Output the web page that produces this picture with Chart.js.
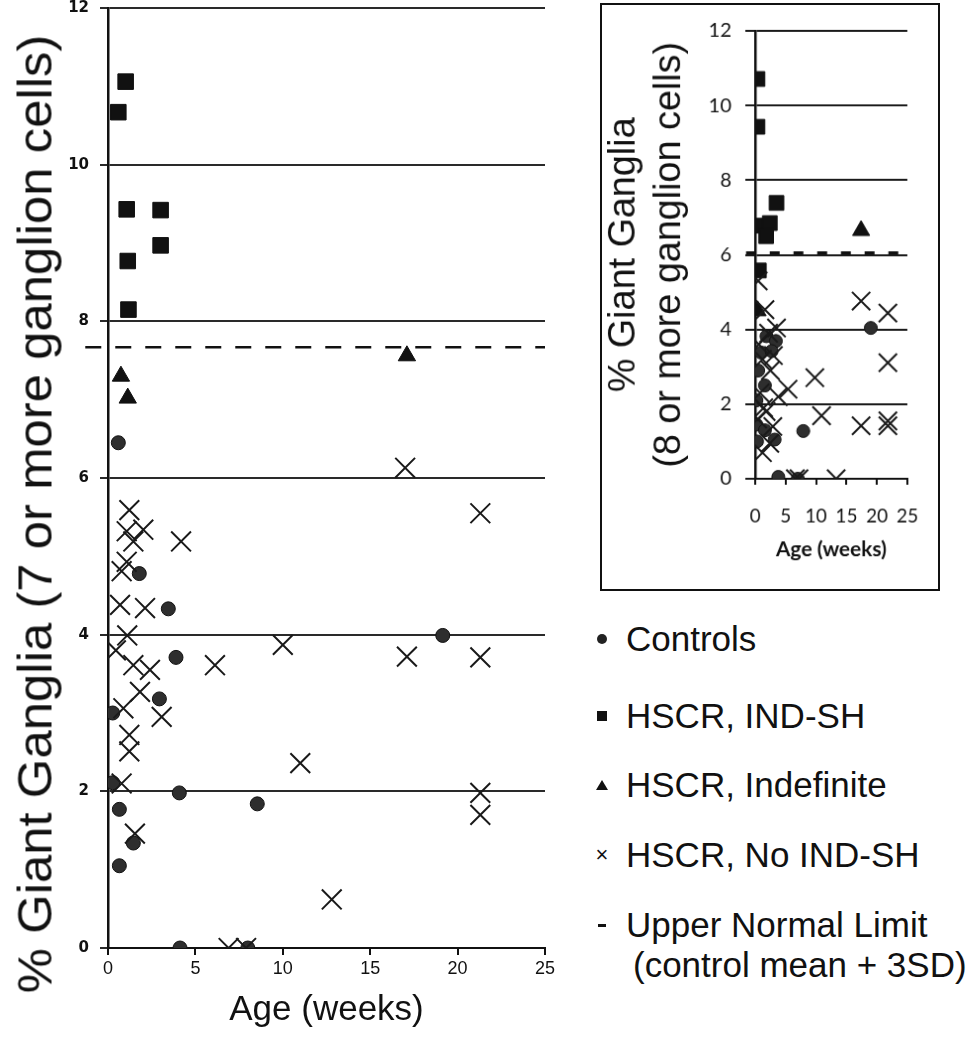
<!DOCTYPE html>
<html>
<head>
<meta charset="utf-8">
<script src="https://cdn.jsdelivr.net/npm/chart.js@4.4.1/dist/chart.umd.min.js"></script>
<style>
  body { margin: 0; background: #fff; width: 976px; height: 1050px; position: relative; overflow: hidden;
         font-family: 'Liberation Sans', Arial, sans-serif; color: #111; }
  #mainChart { position: absolute; left: 0; top: 0; }
  #insetChart { position: absolute; left: 600px; top: 3px; border: 2px solid #111; }
  /* y title of the main chart, rotated html text */
  #mainYTitle { position: absolute; left: 35px; top: 514px; font-size: 48px; white-space: nowrap;
                transform: translate(-50%, -50%) rotate(-90deg) scaleX(1.06); }
  .row { position: absolute; left: 590px; height: 40px; line-height: 40px; font-size: 35px; white-space: nowrap; display: flex; align-items: center; }
  .mk { width: 24px; height: 40px; display: flex; align-items: center; justify-content: center; margin-right: 12px; }
  .dot { width: 10px; height: 10px; border-radius: 50%; background: #222; }
  .sq { width: 10px; height: 10px; background: #111; }
  .tri { width: 0; height: 0; border-left: 6px solid transparent; border-right: 6px solid transparent; border-bottom: 10px solid #111; }
  .x { font-size: 22px; line-height: 22px; }
  .dash { width: 8px; height: 3px; background: #111; }
</style>
</head>
<body>
<canvas id="mainChart" width="570" height="1050"></canvas>
<canvas id="insetChart" width="340" height="588"></canvas>
<div id="mainYTitle">% Giant Ganglia (7 or more ganglion cells)</div>

<div class="row" style="top:619px"><span class="mk"><span class="dot"></span></span>Controls</div>
<div class="row" style="top:696px"><span class="mk"><span class="sq"></span></span>HSCR, IND-SH</div>
<div class="row" style="top:765px"><span class="mk"><span class="tri"></span></span>HSCR, Indefinite</div>
<div class="row" style="top:835px"><span class="mk"><span class="x">×</span></span>HSCR, No IND-SH</div>
<div class="row" style="top:905px"><span class="mk"><span class="dash"></span></span>Upper Normal Limit</div>
<div class="row" style="top:945px; left:633px">(control mean + 3SD)</div>

<script>
// ---- main chart (7 or more ganglion cells) ----
const ctrlAge = [0.59, 1.79, 3.45, 3.89, 2.94, 0.27, 0.27, 4.08, 8.54, 0.65, 1.45, 0.65, 4.12, 8.0, 19.15];
const ctrlPct = [6.45, 4.78, 4.33, 3.71, 3.18, 3.0, 2.11, 1.98, 1.84, 1.77, 1.34, 1.05, 0.0, 0.0, 3.99];

const indAge = [1.01, 0.59, 1.07, 3.01, 3.01, 1.13, 1.17];
const indPct = [11.06, 10.67, 9.43, 9.42, 8.97, 8.77, 8.15];

const indefAge = [0.74, 1.13, 17.1];
const indefPct = [7.3, 7.02, 7.56];

const noIndAge = [1.22, 1.07, 2.02, 1.45, 4.18, 1.07, 0.78, 0.69, 2.12, 1.10, 0.45, 1.45, 2.40, 1.83, 0.88, 3.07,
                  1.22, 1.22, 0.78, 1.54, 6.12, 10.0, 11.0, 12.8, 6.9, 7.9, 17.0, 17.1, 21.3, 21.3, 21.3, 21.3];
const noIndPct = [5.59, 5.32, 5.34, 5.19, 5.19, 4.93, 4.81, 4.38, 4.34, 3.99, 3.80, 3.61, 3.55, 3.27, 3.06, 2.95,
                  2.72, 2.51, 2.10, 1.46, 3.61, 3.87, 2.36, 0.62, 0.0, 0.0, 6.13, 3.72, 5.55, 3.71, 1.98, 1.70];

const mainLimit = 7.67;
const mainLimitAge = [-1.3, 25];

// ---- inset chart (8 or more ganglion cells) ----
const inCtrlAge = [0.2, 0.2, 1.6, 0.3, 3.2, 1.85, 3.4, 1.0, 2.7, 0.5, 1.6, 3.8, 7.0, 7.9, 19.0];
const inCtrlPct = [2.1, 1.45, 1.3, 1.0, 1.05, 3.82, 3.69, 3.38, 3.42, 2.9, 2.5, 0.05, 0.0, 1.28, 4.04];

const inIndAge = [0.38, 0.38, 3.5, 0.5, 2.4, 1.8, 0.6];
const inIndPct = [10.71, 9.43, 7.39, 6.78, 6.85, 6.5, 5.58];

const inIndefAge = [17.4, 0.4];
const inIndefPct = [6.65, 4.5];

const inNoIndAge = [0.5, 1.6, 3.5, 17.4, 21.8, 21.8, 9.8, 5.4, 3.8, 10.9, 17.4, 21.8, 21.8, 13.3, 7.2, 6.6,
                    1.8, 2.4, 1.2, 2.5, 0.8, 1.4, 2.9, 0.6, 3.0, 1.2, 0.4, 2.2];
const inNoIndPct = [5.3, 4.53, 4.04, 4.76, 4.44, 3.11, 2.71, 2.4, 2.2, 1.69, 1.42, 1.55, 1.42, 0.0, 0.0, 0.0,
                    1.8, 0.95, 3.2, 2.9, 2.3, 1.9, 1.4, 3.6, 3.3, 0.7, 1.6, 3.9];

const insetLimit = 6.05;
const insetLimitAge = [-1.5, 25];

const pts = (xs, ys) => xs.map((x, i) => ({ x, y: ys[i] }));

function datasets(s) {
  return [
    { label: 'HSCR, No IND-SH', data: pts(s.noAge, s.noPct), pointStyle: 'crossRot', pointRadius: s.crossR,
      borderColor: '#1a1a1a', backgroundColor: '#1a1a1a', borderWidth: 2 },
    { label: 'Controls', data: pts(s.cAge, s.cPct), pointStyle: 'circle', pointRadius: s.dotR,
      borderColor: '#111', backgroundColor: '#2e2e2e', borderWidth: 1 },
    { label: 'HSCR, IND-SH', data: pts(s.iAge, s.iPct), pointStyle: 'rect', pointRadius: s.sqR,
      borderColor: '#111', backgroundColor: '#111', borderWidth: 1 },
    { label: 'HSCR, Indefinite', data: pts(s.tAge, s.tPct), pointStyle: 'triangle', pointRadius: s.triR,
      borderColor: '#111', backgroundColor: '#111', borderWidth: 1 },
    { type: 'line', label: 'Upper Normal Limit', data: s.limAge.map(x => ({ x, y: s.lim })),
      borderColor: '#111', borderWidth: s.dashW, borderDash: s.dash, pointRadius: 0, clip: false, fill: false }
  ];
}

// main chart
new Chart(document.getElementById('mainChart'), {
  type: 'scatter',
  data: {
    datasets: datasets({
      cAge: ctrlAge, cPct: ctrlPct, iAge: indAge, iPct: indPct, tAge: indefAge, tPct: indefPct,
      noAge: noIndAge, noPct: noIndPct, lim: mainLimit, limAge: mainLimitAge,
      crossR: 14, dotR: 7, sqR: 11, triR: 10, dashW: 2.5, dash: [16, 14]
    })
  },
  options: {
    responsive: false,
    animation: false,
    layout: { autoPadding: false, padding: { top: 8, right: 25, bottom: 0, left: 0 } },
    plugins: { legend: { display: false }, tooltip: { enabled: false } },
    scales: {
      x: {
        type: 'linear', min: 0, max: 25,
        afterFit: s => { s.height = 102; },
        ticks: { stepSize: 5, color: '#111', padding: 3, font: { family: 'Liberation Sans', size: 18 } },
        grid: { drawOnChartArea: false, drawTicks: true, tickLength: 7, color: '#111', lineWidth: 2 },
        border: { display: true, color: '#111', width: 2 },
        title: { display: true, text: 'Age (weeks)', color: '#111',
                 font: { family: 'Liberation Sans', size: 35 }, padding: { top: 0, bottom: 19 } }
      },
      y: {
        min: 0, max: 12,
        // fixed axis width, and no extra room above the top tick
        afterFit: s => { s.width = 108; s.paddingTop = 0; s.paddingBottom = 0; },
        ticks: { stepSize: 2, color: '#111', padding: 11, font: { family: 'DejaVu Sans', size: 15, weight: 'bold' } },
        grid: { color: '#2a2a2a', lineWidth: 2, tickLength: 8 },
        border: { display: true, color: '#111', width: 2.5 }
      }
    }
  }
});

// inset chart
new Chart(document.getElementById('insetChart'), {
  type: 'scatter',
  data: {
    datasets: datasets({
      cAge: inCtrlAge, cPct: inCtrlPct, iAge: inIndAge, iPct: inIndPct, tAge: inIndefAge, tPct: inIndefPct,
      noAge: inNoIndAge, noPct: inNoIndPct, lim: insetLimit, limAge: insetLimitAge,
      crossR: 13, dotR: 6.5, sqR: 10.5, triR: 10, dashW: 3, dash: [10, 14]
    })
  },
  options: {
    responsive: false,
    animation: false,
    layout: { autoPadding: false, padding: { top: 26, right: 31, bottom: 0, left: 0 } },
    plugins: { legend: { display: false }, tooltip: { enabled: false } },
    scales: {
      x: {
        type: 'linear', min: 0, max: 25,
        afterFit: s => { s.height = 111; },
        ticks: { stepSize: 5, color: '#111', padding: 20, maxRotation: 0, autoSkip: false,
                 font: { family: 'Lato', size: 19 } },
        grid: { drawOnChartArea: false, drawTicks: true, tickLength: 6, color: '#111', lineWidth: 2 },
        border: { display: true, color: '#111', width: 2 },
        title: { display: true, text: 'Age (weeks)', color: '#111',
                 font: { family: 'Lato', size: 21, weight: 'bold' }, padding: { top: 0, bottom: 27 } }
      },
      y: {
        min: 0, max: 12,
        afterFit: s => { s.width = 155; s.paddingTop = 0; s.paddingBottom = 0; },
        ticks: { stepSize: 2, color: '#111', padding: 14, font: { family: 'Lato', size: 20 } },
        grid: { color: '#1a1a1a', lineWidth: 2, tickLength: 10 },
        border: { display: true, color: '#111', width: 2.5 },
        title: { display: true, text: ['% Giant Ganglia', '(8 or more ganglion cells)'], color: '#111',
                 font: { family: 'Liberation Sans', size: 38, lineHeight: 1.2 }, padding: { top: 0, bottom: 0 } }
      }
    }
  }
});
</script>
</body>
</html>
